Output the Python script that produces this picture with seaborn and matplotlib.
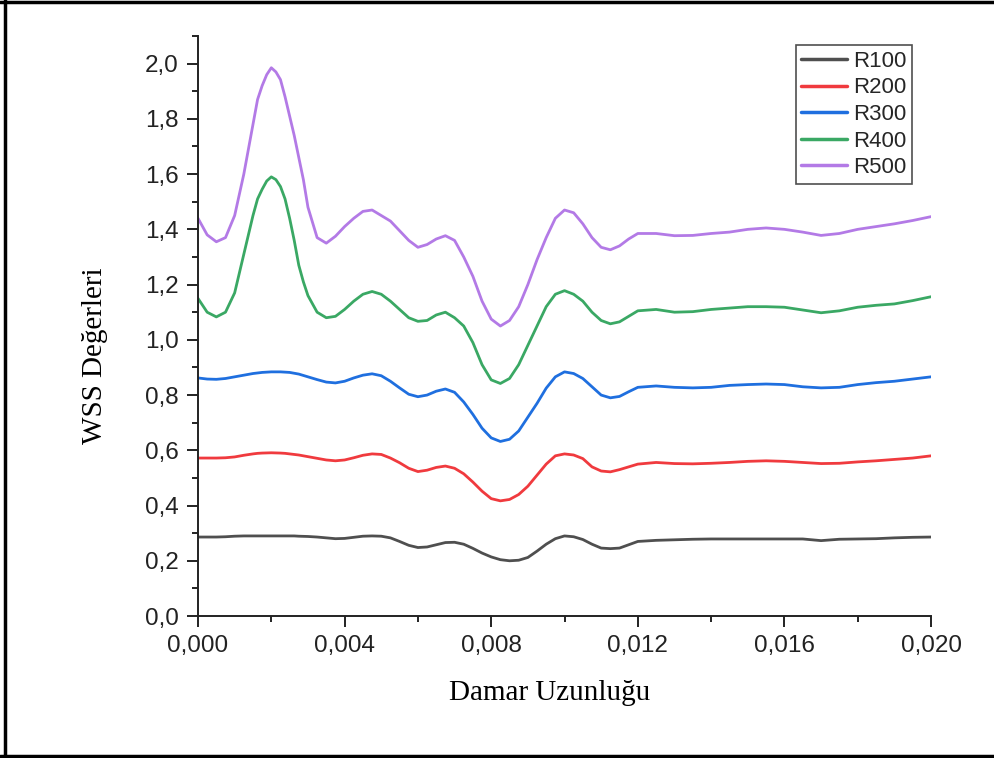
import numpy as np
import pandas as pd
import matplotlib
matplotlib.use("Agg")
import matplotlib.pyplot as plt
from matplotlib.lines import Line2D
from matplotlib.ticker import FuncFormatter, MultipleLocator
import seaborn as sns

# ---- data ----
x_a = [i * 0.00025 for i in range(6)]                # 0 .. 0.00125
x_b = [0.0015 + i * 0.000125 for i in range(13)]     # 0.0015 .. 0.003 (finer near peak)
x_c = [0.00325 + i * 0.00025 for i in range(36)]     # 0.00325 .. 0.012
x_d = [0.0125 + i * 0.0005 for i in range(16)]       # 0.0125 .. 0.020
x_vals = x_a + x_b + x_c + x_d

r100 = [0.286, 0.286, 0.286, 0.287, 0.289, 0.290,
        0.290, 0.290, 0.290, 0.290, 0.290, 0.290, 0.290, 0.290, 0.290, 0.290,
        0.289, 0.2885, 0.288,
        0.286, 0.283, 0.280, 0.281, 0.285, 0.289, 0.290,
        0.289, 0.283, 0.270, 0.256, 0.248, 0.250, 0.258, 0.266, 0.267, 0.260,
        0.245, 0.228, 0.214, 0.204, 0.200, 0.202, 0.212, 0.235, 0.260, 0.280,
        0.290, 0.287, 0.277, 0.260, 0.246, 0.244, 0.246, 0.258, 0.270,
        0.274, 0.276, 0.278, 0.279, 0.279, 0.279, 0.279, 0.279, 0.279,
        0.273, 0.278, 0.279, 0.280, 0.283, 0.285, 0.286]

r200 = [0.572, 0.572, 0.572, 0.573, 0.576, 0.582,
        0.587, 0.589, 0.590, 0.5905, 0.591, 0.5905, 0.590, 0.589, 0.587, 0.585,
        0.583, 0.580, 0.577,
        0.571, 0.565, 0.562, 0.565, 0.573, 0.582, 0.587,
        0.585, 0.572, 0.555, 0.535, 0.523, 0.528, 0.538, 0.543, 0.535, 0.515,
        0.485, 0.452, 0.425, 0.417, 0.422, 0.440, 0.470, 0.510, 0.550, 0.580,
        0.587, 0.583, 0.570, 0.540, 0.525, 0.522, 0.530, 0.540, 0.550,
        0.556, 0.552, 0.551, 0.553, 0.556, 0.560, 0.562, 0.560, 0.556,
        0.552, 0.553, 0.558, 0.562, 0.567, 0.572, 0.580]

r300 = [0.862, 0.858, 0.857, 0.860, 0.866, 0.872,
        0.878, 0.880, 0.882, 0.883, 0.884, 0.884, 0.884, 0.883, 0.882, 0.879,
        0.876, 0.871, 0.866,
        0.856, 0.847, 0.844, 0.850, 0.862, 0.872, 0.877,
        0.870, 0.850, 0.826, 0.803, 0.794, 0.800, 0.814, 0.822, 0.810, 0.775,
        0.730, 0.680, 0.645, 0.632, 0.640, 0.670, 0.720, 0.770, 0.825, 0.866,
        0.884, 0.878, 0.860, 0.830, 0.800, 0.790, 0.795, 0.812, 0.828,
        0.833, 0.828, 0.826, 0.828, 0.835, 0.838, 0.840, 0.838, 0.830,
        0.826, 0.828, 0.838, 0.845, 0.850, 0.858, 0.866]

r400 = [1.150, 1.100, 1.083, 1.100, 1.170, 1.310,
        1.450, 1.510, 1.545, 1.575, 1.590, 1.580, 1.555, 1.510, 1.440, 1.360,
        1.270, 1.210, 1.160,
        1.100, 1.080, 1.085, 1.110, 1.140, 1.165, 1.175,
        1.165, 1.140, 1.110, 1.080, 1.067, 1.070, 1.090, 1.100, 1.080, 1.050,
        0.990, 0.910, 0.855, 0.842, 0.860, 0.910, 0.980, 1.050, 1.120, 1.165,
        1.178, 1.165, 1.140, 1.100, 1.070, 1.058, 1.065, 1.085, 1.105,
        1.110, 1.100, 1.102, 1.110, 1.115, 1.120, 1.120, 1.118, 1.108,
        1.098, 1.105, 1.118, 1.125, 1.130, 1.142, 1.156]

r500 = [1.440, 1.380, 1.355, 1.370, 1.450, 1.600,
        1.780, 1.870, 1.920, 1.960, 1.985, 1.970, 1.942, 1.880, 1.810, 1.740,
        1.660, 1.580, 1.480,
        1.370, 1.350, 1.375, 1.410, 1.440, 1.465, 1.470,
        1.450, 1.430, 1.395, 1.360, 1.335, 1.345, 1.365, 1.377, 1.360, 1.300,
        1.230, 1.140, 1.075, 1.050, 1.070, 1.120, 1.200, 1.290, 1.370, 1.440,
        1.470, 1.460, 1.420, 1.370, 1.335, 1.326, 1.340, 1.365, 1.385,
        1.385, 1.377, 1.378, 1.385, 1.390, 1.400, 1.405, 1.400, 1.390,
        1.378, 1.385, 1.400, 1.410, 1.420, 1.432, 1.446]

series_names = ["R100", "R200", "R300", "R400", "R500"]
series_colors = ["#4f4f4f", "#f03a3e", "#1f6fdf", "#3aa864", "#b37ae6"]

x_ticks = [0.000, 0.004, 0.008, 0.012, 0.016, 0.020]
y_ticks = [0.0, 0.2, 0.4, 0.6, 0.8, 1.0, 1.2, 1.4, 1.6, 1.8, 2.0]

df = pd.concat([
    pd.DataFrame({"x": x_vals, "WSS": vals, "series": name})
    for name, vals in zip(series_names, [r100, r200, r300, r400, r500])
], ignore_index=True)

# ---- style ----
sns.set_theme(style="ticks")
plt.rcParams["font.family"] = ["Liberation Sans", "DejaVu Sans"]

fig = plt.figure(figsize=(9.95, 7.58), dpi=100)
ax = fig.add_axes([0.199, 0.1873, 0.7367, 0.7652])

sns.lineplot(data=df, x="x", y="WSS", hue="series", hue_order=series_names,
             palette=dict(zip(series_names, series_colors)), estimator=None,
             linewidth=2.0, ax=ax)

ax.set_xlim(0, 0.020)
ax.set_ylim(0, 2.1)
ax.set_xticks(x_ticks)
ax.set_yticks(y_ticks)
ax.xaxis.set_minor_locator(MultipleLocator(0.002))
ax.yaxis.set_minor_locator(MultipleLocator(0.1))
ax.xaxis.set_major_formatter(FuncFormatter(lambda v, _: f"{v:.3f}".replace(".", ",")))
ax.yaxis.set_major_formatter(FuncFormatter(lambda v, _: f"{v:.1f}".replace(".", ",")))

for s in ["top", "right"]:
    ax.spines[s].set_visible(False)
for s in ["left", "bottom"]:
    ax.spines[s].set_linewidth(1.4)
    ax.spines[s].set_color("#222222")

ax.tick_params(axis="both", which="major", direction="out", length=8, width=1.4,
               color="#222222", labelsize=17.5, labelcolor="#222222", pad=6)
ax.tick_params(axis="both", which="minor", direction="out", length=4.5, width=1.4,
               color="#222222")

ax.set_xlabel("Damar Uzunluğu", family=["Liberation Serif", "DejaVu Serif"],
              fontsize=21, color="black")
ax.set_ylabel("WSS Değerleri", family=["Liberation Serif", "DejaVu Serif"],
              fontsize=21, color="black")
ax.xaxis.label.set_verticalalignment("center")
ax.yaxis.label.set_verticalalignment("center")
ax.xaxis.set_label_coords(0.48, -0.1328)
ax.yaxis.set_label_coords(-0.1405, 0.448)

leg = ax.legend(loc="upper right", bbox_to_anchor=(0.974, 0.984), borderaxespad=0,
                fontsize=16, frameon=True, fancybox=False, handlelength=2.05,
                handletextpad=0.27, labelspacing=0.25, borderpad=0.25)
leg.get_frame().set_edgecolor("#222222")
leg.get_frame().set_linewidth(1.2)
for line in leg.get_lines():
    line.set_linewidth(2.5)

# outer frame of the figure
fig.add_artist(Line2D([0.0055, 0.0055], [0.0, 1.0], transform=fig.transFigure,
                      color="black", linewidth=2.5))
fig.add_artist(Line2D([0.0, 1.0], [0.998, 0.998], transform=fig.transFigure,
                      color="black", linewidth=2.5))
fig.add_artist(Line2D([0.0, 1.0], [0.0025, 0.0025], transform=fig.transFigure,
                      color="black", linewidth=2.5))

fig.savefig("out.png", dpi=100)
